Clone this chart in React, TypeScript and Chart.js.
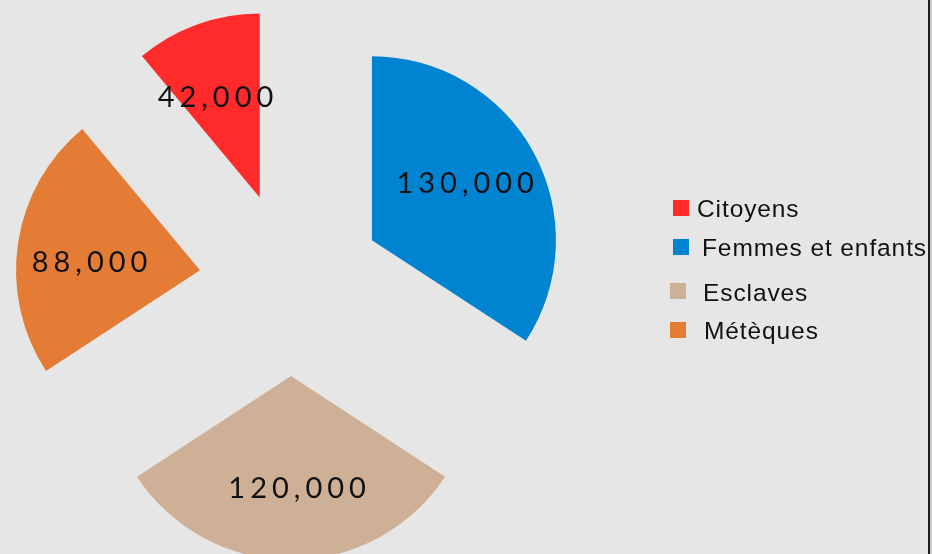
import React, { useEffect, useRef } from 'react';
import { Chart, registerables } from 'chart.js';

Chart.register(...registerables);

const categories = ['Citoyens', 'Femmes et enfants', 'Esclaves', 'Métèques'];
const populations = [42000, 130000, 120000, 88000];
const valueLabels = ['42,000', '130,000', '120,000', '88,000'];
const sliceColors = ['#ff2b2b', '#0084d2', '#ceb096', '#e47c35'];

const EXPLODE = 92;
const RADIUS = 184;

const explodePlugin = {
  id: 'explodeSlices',
  afterDatasetUpdate(chart: any, args: any) {
    const area = chart.chartArea;
    const ctrl = args.meta.controller;
    const cx = (area.left + area.right) / 2 + (ctrl.offsetX || 0);
    const cy = (area.top + area.bottom) / 2 + (ctrl.offsetY || 0);
    for (const el of args.meta.data) {
      const mid = (el.startAngle + el.endAngle) / 2;
      el.x = cx + Math.cos(mid) * EXPLODE;
      el.y = cy + Math.sin(mid) * EXPLODE;
    }
  },
};

const valueLabelPlugin = {
  id: 'valueLabels',
  afterDatasetsDraw(chart: any) {
    const ctx = chart.ctx;
    const meta = chart.getDatasetMeta(0);
    ctx.save();
    ctx.font = '400 29px Lato, "DejaVu Sans", sans-serif';
    (ctx as any).letterSpacing = '5px';
    ctx.fillStyle = '#111111';
    ctx.textAlign = 'center';
    ctx.textBaseline = 'middle';
    meta.data.forEach((el: any, i: number) => {
      const mid = (el.startAngle + el.endAngle) / 2 - 0.06;
      const r = el.outerRadius * 0.6;
      ctx.fillText(valueLabels[i], el.x + Math.cos(mid) * r + 2, el.y + Math.sin(mid) * r + 2);
    });
    ctx.restore();
  },
};

const legendRows = [
  { box: [673, 200], text: [697, 217] },
  { box: [673, 239], text: [702, 256] },
  { box: [670, 283], text: [703, 301] },
  { box: [670, 322], text: [704, 339] },
];

const customLegendPlugin = {
  id: 'customLegend',
  afterDraw(chart: any) {
    const ctx = chart.ctx;
    ctx.save();
    ctx.font = '24.5px "Liberation Sans", Arial, sans-serif';
    (ctx as any).letterSpacing = '0.9px';
    ctx.textBaseline = 'alphabetic';
    ctx.textAlign = 'left';
    categories.forEach((name, i) => {
      const row = legendRows[i];
      ctx.fillStyle = sliceColors[i];
      ctx.fillRect(row.box[0], row.box[1], 16, 16);
      ctx.fillStyle = '#111111';
      ctx.fillText(name, row.text[0], row.text[1]);
    });
    ctx.restore();
  },
};

export default function App() {
  const canvasRef = useRef<HTMLCanvasElement | null>(null);

  useEffect(() => {
    if (!canvasRef.current) return;
    const total = populations.reduce((a, b) => a + b, 0);
    const chart = new Chart(canvasRef.current, {
      type: 'pie',
      data: {
        labels: categories,
        datasets: [
          {
            data: populations,
            backgroundColor: sliceColors,
            borderWidth: 0,
          },
        ],
      },
      options: {
        responsive: false,
        animation: false,
        rotation: -(populations[0] / total) * 360,
        radius: RADIUS,
        layout: { padding: { left: 0, right: 350, top: 14, bottom: 0 } },
        plugins: {
          legend: { display: false },
          tooltip: { enabled: false },
        },
      } as any,
      plugins: [explodePlugin, valueLabelPlugin, customLegendPlugin],
    });
    return () => chart.destroy();
  }, []);

  return (
    <div style={{ position: 'fixed', left: 0, top: 0, width: 932, height: 554, background: '#e6e6e6', overflow: 'hidden' }}>
      <div style={{ position: 'absolute', left: 928, top: 0, width: 2, height: 554, background: '#1e1e1e' }} />
      <div style={{ position: 'absolute', left: 930, top: 0, width: 2, height: 554, background: '#cdcdcd' }} />
      <canvas ref={canvasRef} width={932} height={554} style={{ position: 'absolute', left: 0, top: 0, display: 'block' }} />
    </div>
  );
}
